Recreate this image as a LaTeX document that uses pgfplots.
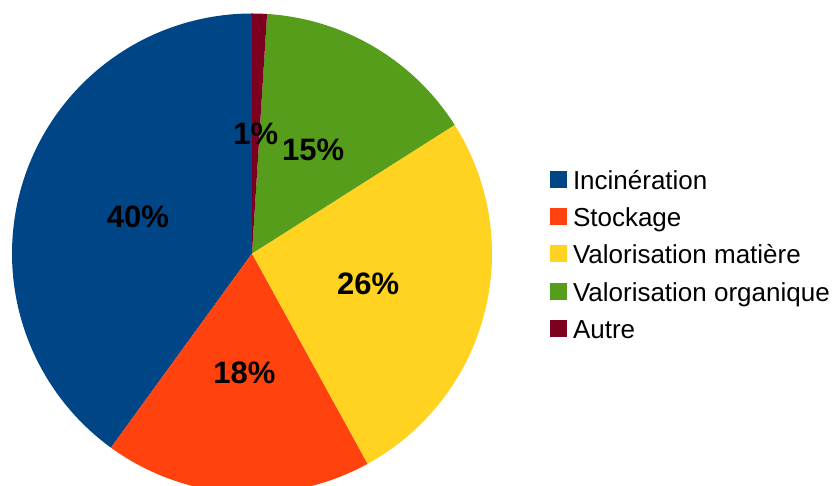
\documentclass[border=0pt]{standalone}
\usepackage{pgfplots}
\usepackage{pgfplotstable}
\pgfplotsset{compat=1.18}
\usepackage{fontspec}
\setmainfont{Liberation Sans}
\definecolor{cInc}{HTML}{004586}
\definecolor{cSto}{HTML}{FF420E}
\definecolor{cMat}{HTML}{FFD320}
\definecolor{cOrg}{HTML}{579D1C}
\definecolor{cAut}{HTML}{7E0021}
\pgfplotstableread{
share
40
18
26
15
1
}\piedata
\pgfplotstablegetelem{0}{share}\of\piedata \let\vA\pgfplotsretval
\pgfplotstablegetelem{1}{share}\of\piedata \let\vB\pgfplotsretval
\pgfplotstablegetelem{2}{share}\of\piedata \let\vC\pgfplotsretval
\pgfplotstablegetelem{3}{share}\of\piedata \let\vD\pgfplotsretval
\pgfplotstablegetelem{4}{share}\of\piedata \let\vE\pgfplotsretval
\pgfmathsetmacro\aA{90}
\pgfmathsetmacro\aB{\aA+3.6*\vA}
\pgfmathsetmacro\aC{\aB+3.6*\vB}
\pgfmathsetmacro\aD{\aC+3.6*\vC}
\pgfmathsetmacro\aE{\aD+3.6*\vD}
\pgfmathsetmacro\aF{\aE+3.6*\vE}
\def\cx{252}\def\cy{232.5}\def\R{240}
\pgfplotsset{sq/.style={legend image code/.code={\fill[##1] (0pt,-5pt) rectangle (17pt,12pt);}}}
\begin{document}
\begin{tikzpicture}
\begin{axis}[
  x=1pt, y=1pt, xmin=0, xmax=833, ymin=0, ymax=486,
  hide axis, clip=true,
  legend cell align=left,
  legend style={draw=none, fill=none, at={(axis cs:550,315.5)}, anchor=north west,
    inner sep=0pt, outer sep=0pt, font=\fontsize{26}{30}\selectfont,
    column sep=6pt, row sep=12.2pt,
    nodes={inner sep=0pt, text height=19pt, text depth=6pt}},
]
\addplot[fill=cInc, draw=none, sq, domain=\aA:\aB, samples=120, variable=\t]
  ({\cx+\R*cos(\t)},{\cy+\R*sin(\t)}) -- (axis cs:\cx,\cy) -- cycle;
\addlegendentry{Incinération}
\addplot[fill=cSto, draw=none, sq, domain=\aB:\aC, samples=80, variable=\t]
  ({\cx+\R*cos(\t)},{\cy+\R*sin(\t)}) -- (axis cs:\cx,\cy) -- cycle;
\addlegendentry{Stockage}
\addplot[fill=cMat, draw=none, sq, domain=\aC:\aD, samples=100, variable=\t]
  ({\cx+\R*cos(\t)},{\cy+\R*sin(\t)}) -- (axis cs:\cx,\cy) -- cycle;
\addlegendentry{Valorisation matière}
\addplot[fill=cOrg, draw=none, sq, domain=\aD:\aE, samples=70, variable=\t]
  ({\cx+\R*cos(\t)},{\cy+\R*sin(\t)}) -- (axis cs:\cx,\cy) -- cycle;
\addlegendentry{Valorisation organique}
\addplot[fill=cAut, draw=none, sq, domain=\aE:\aF, samples=10, variable=\t]
  ({\cx+\R*cos(\t)},{\cy+\R*sin(\t)}) -- (axis cs:\cx,\cy) -- cycle;
\addlegendentry{Autre}
\pgfmathsetmacro\mA{(\aA+\aB)/2}
\pgfmathsetmacro\mB{(\aB+\aC)/2}
\pgfmathsetmacro\mC{(\aC+\aD)/2}
\pgfmathsetmacro\mD{(\aD+\aE)/2}
\pgfmathsetmacro\mE{(\aE+\aF)/2}
\begin{scope}[every node/.style={font=\fontsize{31}{36}\selectfont\bfseries, inner sep=0pt}]
\node at (axis cs:{\cx+0.5*\R*cos(\mA)},{\cy+0.5*\R*sin(\mA)}) {\vA\%};
\node at (axis cs:{\cx+0.5*\R*cos(\mB)},{\cy+0.5*\R*sin(\mB)}) {\vB\%};
\node at (axis cs:{\cx+0.5*\R*cos(\mC)},{\cy+0.5*\R*sin(\mC)}) {\vC\%};
\node at (axis cs:{\cx+0.5*\R*cos(\mD)},{\cy+0.5*\R*sin(\mD)}) {\vD\%};
\node at (axis cs:{\cx+0.5*\R*cos(\mE)},{\cy+0.5*\R*sin(\mE)}) {\vE\%};
\end{scope}
\coordinate (ll) at (rel axis cs:0,0);
\coordinate (ur) at (rel axis cs:1,1);
\end{axis}
\pgfresetboundingbox
\path[use as bounding box] (ll) rectangle (ur);
\end{tikzpicture}
\end{document}
